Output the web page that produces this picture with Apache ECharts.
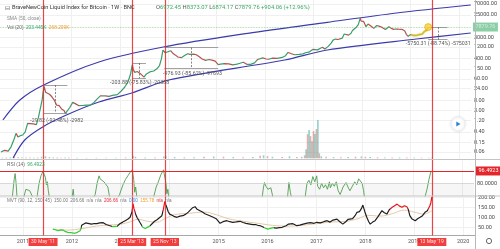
<!DOCTYPE html>
<html><head><meta charset="utf-8">
<script src="https://cdn.jsdelivr.net/npm/echarts@6/dist/echarts.min.js"></script>
<style>html,body{margin:0;padding:0;background:#fff}#c{width:500px;height:249px}</style>
</head><body><div id="c"></div>
<script>
// ---------- DATA ----------
const years = [2011,2012,2013,2014,2015,2016,2017,2018,2019,2020];
const priceTicks = [0.06,0.15,0.4,1.2,3,8,24,60,150,400,1200,3000,25000,70000];
const rsiTicks = [80];
const mvtTicks = [50,100,150,200];
const lastPrice = 7879.76;
const rsiLast = 96.4923;
const redDates = ['2011-05-30','2013-03-25','2013-11-25','2019-05-13'];
const redLabels = ["30 May '11","25 Mar '13","25 Nov '13","13 May '19"];

// weekly-ish closes [decimal year, price]
const price = [
[2010.55,0.06],[2010.62,0.07],[2010.70,0.065],[2010.76,0.10],[2010.82,0.20],[2010.86,0.35],[2010.90,0.25],[2010.95,0.28],
[2011.00,0.30],[2011.05,0.40],[2011.10,0.90],[2011.15,0.88],[2011.22,0.85],[2011.28,0.80],[2011.32,1.5],[2011.36,3.5],
[2011.40,8.5],[2011.42,18],[2011.44,29],[2011.47,17],[2011.50,15],[2011.55,14],[2011.60,11],[2011.65,8],[2011.70,5],
[2011.75,4.8],[2011.80,3.5],[2011.85,3.0],[2011.88,2.3],[2011.92,2.6],[2011.97,4.0],[2012.03,6.5],[2012.10,5.5],
[2012.15,4.8],[2012.25,4.9],[2012.32,5.0],[2012.40,5.1],[2012.47,6.5],[2012.53,8.8],[2012.60,12],[2012.63,10],
[2012.70,12],[2012.78,11.5],[2012.85,12.5],[2012.95,13.5],[2013.02,18],[2013.10,27],[2013.17,45],[2013.22,90],
[2013.26,230],[2013.28,140],[2013.31,110],[2013.36,120],[2013.42,100],[2013.50,70],[2013.55,95],[2013.62,115],
[2013.70,125],[2013.76,150],[2013.82,210],[2013.86,400],[2013.89,900],[2013.91,1050],[2013.94,700],[2013.98,780],
[2014.05,850],[2014.10,650],[2014.15,560],[2014.20,470],[2014.27,440],[2014.33,530],[2014.40,640],[2014.45,600],
[2014.52,620],[2014.58,580],[2014.64,480],[2014.70,390],[2014.77,340],[2014.84,370],[2014.90,350],[2014.97,320],
[2015.03,230],[2015.08,240],[2015.15,250],[2015.25,245],[2015.33,225],[2015.42,240],[2015.48,260],[2015.55,285],
[2015.62,235],[2015.70,235],[2015.78,270],[2015.84,370],[2015.88,330],[2015.95,430],[2016.02,390],[2016.07,380],
[2016.15,420],[2016.25,415],[2016.35,450],[2016.42,530],[2016.47,720],[2016.53,650],[2016.60,580],[2016.70,605],
[2016.78,630],[2016.83,700],[2016.90,740],[2016.98,960],[2017.02,920],[2017.08,920],[2017.13,1050],[2017.18,1180],
[2017.23,1000],[2017.30,1280],[2017.36,1750],[2017.40,2300],[2017.45,2550],[2017.50,2450],[2017.54,2300],[2017.59,2800],
[2017.63,4100],[2017.67,4300],[2017.72,3700],[2017.77,4400],[2017.80,5700],[2017.84,6100],[2017.88,7800],[2017.92,10000],
[2017.96,18500],[2017.98,13800],[2018.03,13500],[2018.08,8200],[2018.12,10500],[2018.18,8800],[2018.24,7000],[2018.30,9200],
[2018.36,8500],[2018.42,7500],[2018.48,6300],[2018.55,8200],[2018.60,7000],[2018.65,6400],[2018.70,6600],[2018.75,6500],
[2018.82,6400],[2018.88,5500],[2018.91,4000],[2018.95,3300],[2019.00,3900],[2019.05,3600],[2019.12,3600],[2019.18,3900],
[2019.24,4100],[2019.28,5200],[2019.33,5800],[2019.362,7879.76]
];
// volume [decimal year, volume (M)]
const volume = [
[2010.58,0.6],[2010.66,0.8],[2010.74,0.9],[2010.82,1.2],[2010.90,1.0],[2010.98,0.8],[2011.06,0.7],[2011.14,0.7],
[2011.22,0.6],[2011.30,0.8],[2011.38,1.5],[2011.46,2.0],[2011.54,1.2],[2011.62,0.9],[2011.70,0.8],[2011.78,0.6],
[2011.86,0.7],[2011.94,0.8],[2012.10,0.5],[2012.30,0.4],[2012.50,0.5],[2012.70,0.6],[2012.90,0.5],[2013.10,0.8],
[2013.25,2.5],[2013.30,1.5],[2013.50,0.8],[2013.70,0.7],[2013.88,1.8],[2013.92,2.2],[2014.10,1.2],[2014.30,1.0],
[2014.50,1.1],[2014.70,1.5],[2014.90,1.8],[2015.10,1.6],[2015.30,1.2],[2015.50,1.0],[2015.70,1.3],[2015.85,2.5],
[2015.92,3.0],[2016.00,2.2],[2016.10,1.5],[2016.30,1.2],[2016.45,2.0],[2016.60,1.2],[2016.70,1.5],[2016.76,3],
[2016.79,9],[2016.82,24],[2016.85,28],[2016.88,22],[2016.91,17],[2016.94,27],[2016.97,24],[2017.00,29],
[2017.03,38],[2017.06,5],[2017.10,2],[2017.20,1.5],[2017.35,1.2],[2017.50,1.0],[2017.65,1.2],[2017.80,1.6],
[2017.92,1.8],[2018.00,1.5],[2018.10,1.2],[2018.25,1.0],[2018.40,0.9],[2018.55,0.8],[2018.70,0.8],[2018.85,0.9],
[2019.00,0.7],[2019.15,0.6],[2019.30,0.6],[2019.36,0.5]
];
// RSI (14) [decimal year, value]
const rsi = [
[2010.55,55],[2010.78,60],[2010.82,85],[2010.84,93],[2010.86,80],[2010.88,60],[2010.95,55],[2011.02,62],[2011.06,72],
[2011.10,73],[2011.14,70],[2011.18,68],[2011.21,60],[2011.26,55],[2011.29,62],[2011.33,80],[2011.37,90],[2011.41,96],
[2011.43,98],[2011.46,88],[2011.48,78],[2011.50,82],[2011.52,70],[2011.55,58],[2012.00,58],[2012.03,72],[2012.05,58],
[2012.40,55],[2012.48,65],[2012.52,80],[2012.56,90],[2012.58,86],[2012.62,88],[2012.66,82],[2012.70,84],[2012.74,75],
[2012.78,60],[2012.90,55],[2012.98,65],[2013.05,78],[2013.10,85],[2013.15,90],[2013.20,95],[2013.24,98],[2013.27,85],
[2013.29,68],[2013.31,75],[2013.34,58],[2013.60,55],[2013.68,62],[2013.73,75],[2013.78,83],[2013.83,92],[2013.88,98],
[2013.91,97],[2013.93,80],[2013.95,66],[2013.97,72],[2013.99,60],[2014.05,55],[2015.90,60],[2015.93,75],[2015.95,81],
[2015.98,76],[2016.02,72],[2016.05,70],[2016.08,74],[2016.12,62],[2016.20,55],[2016.42,60],[2016.45,81],[2016.48,68],
[2016.52,55],[2016.78,60],[2016.82,80],[2016.86,84],[2016.90,78],[2016.94,89],[2016.98,82],[2017.02,90],[2017.04,76],
[2017.08,72],[2017.12,80],[2017.16,74],[2017.20,78],[2017.24,72],[2017.28,82],[2017.30,74],[2017.34,80],[2017.38,76],
[2017.42,82],[2017.46,70],[2017.50,65],[2017.56,75],[2017.62,81],[2017.66,75],[2017.70,70],[2017.74,72],[2017.80,82],
[2017.84,78],[2017.88,86],[2017.92,88],[2017.95,80],[2017.98,70],[2018.00,60],[2018.05,55],[2019.20,55],[2019.24,62],
[2019.28,72],[2019.32,85],[2019.362,96.4923]
];
// MVT main line [decimal year, value]
const mvt = [
[2011.61,43],[2011.66,40],[2011.72,35],[2011.77,39],[2011.82,38],[2011.87,30],[2011.92,27],[2011.98,25],[2012.06,22],
[2012.12,28],[2012.17,35],[2012.20,62],[2012.23,70],[2012.28,74],[2012.33,72],[2012.40,68],[2012.46,71],[2012.51,70],
[2012.57,74],[2012.64,75],[2012.70,66],[2012.78,60],[2012.84,55],[2012.88,50],[2012.93,58],[2012.98,70],[2013.04,78],
[2013.09,85],[2013.14,92],[2013.19,102],[2013.23,130],[2013.25,170],[2013.27,145],[2013.30,120],[2013.33,102],[2013.36,95],
[2013.39,77],[2013.42,65],[2013.45,52],[2013.50,46],[2013.54,43],[2013.59,58],[2013.64,70],[2013.69,82],[2013.74,90],
[2013.79,100],[2013.84,110],[2013.87,140],[2013.90,182],[2013.92,165],[2013.94,152],[2013.97,130],[2014.00,118],[2014.05,112],
[2014.10,105],[2014.15,102],[2014.21,108],[2014.27,110],[2014.33,118],[2014.38,128],[2014.42,135],[2014.47,150],[2014.52,155],
[2014.56,142],[2014.62,135],[2014.67,128],[2014.72,120],[2014.76,118],[2014.82,110],[2014.89,102],[2014.95,95],[2015.03,72],
[2015.09,80],[2015.17,85],[2015.23,80],[2015.29,77],[2015.36,79],[2015.44,82],[2015.50,76],[2015.56,72],[2015.60,70],
[2015.64,68],[2015.70,65],[2015.75,66],[2015.80,62],[2015.85,60],[2015.90,55],[2015.95,48],[2016.01,43],[2016.06,47],
[2016.11,50],[2016.18,48],[2016.24,50],[2016.30,52],[2016.38,60],[2016.43,68],[2016.46,77],[2016.52,70],[2016.60,60],
[2016.66,63],[2016.73,68],[2016.81,73],[2016.88,75],[2016.95,72],[2017.01,77],[2017.08,74],[2017.15,80],[2017.22,85],
[2017.28,78],[2017.34,88],[2017.42,93],[2017.48,80],[2017.54,68],[2017.60,80],[2017.65,92],[2017.69,102],[2017.74,95],
[2017.79,110],[2017.83,127],[2017.88,130],[2017.92,145],[2017.95,163],[2017.99,130],[2018.03,102],[2018.07,80],[2018.10,68],
[2018.15,78],[2018.20,85],[2018.26,105],[2018.30,120],[2018.34,135],[2018.39,125],[2018.44,118],[2018.49,140],[2018.55,152],
[2018.60,160],[2018.65,168],[2018.70,158],[2018.75,152],[2018.80,160],[2018.85,155],[2018.88,140],[2018.91,110],[2018.95,95],
[2018.98,88],[2019.02,85],[2019.07,95],[2019.12,102],[2019.17,110],[2019.22,127],[2019.27,135],[2019.32,160],[2019.34,175],
[2019.362,204]
];
// MVT slow average [decimal year, value]
const mvtAvg = [
[2011.61,42],[2011.9,38],[2012.2,45],[2012.5,58],[2012.8,64],[2013.0,68],[2013.2,80],[2013.35,92],[2013.55,82],[2013.75,78],
[2013.9,95],[2014.1,115],[2014.4,122],[2014.7,128],[2014.95,115],[2015.2,95],[2015.5,82],[2015.8,72],[2016.1,62],[2016.4,58],
[2016.7,62],[2017.0,70],[2017.3,78],[2017.6,82],[2017.85,95],[2018.05,112],[2018.3,108],[2018.55,120],[2018.8,138],
[2019.0,128],[2019.2,118],[2019.362,135]
];
// MVT colour zones [from, to]
const mvtGreen = [[2011.55,2012.19],[2012.83,2012.92],[2013.43,2013.60],[2015.93,2016.14]];
const mvtRed = [[2013.22,2013.29],[2013.86,2013.93],[2018.50,2018.88],[2019.28,2019.40]];
// channel (drawing) [decimal year, price]
const channelUpper = [[2010.59,1.23],[2010.94,8.1],[2011.43,33.5],[2012.57,293],[2013.90,1205],[2015.64,4380],[2017.28,12400],[2018.71,29900],[2020.24,63600]];
const channelLower = [[2010.80,0.034],[2011.04,0.186],[2011.41,0.64],[2011.90,1.97],[2012.57,6.7],[2013.25,15.7],[2014.01,53.7],[2016.40,354],[2017.28,910],[2019.12,2570],[2020.24,4530]];
// price range measurements: [start, end, mid, high, low, text-x, text-price, text]
const ranges = [
 [2011.43,2011.92,2011.67,33.5,2.38,2011.70,1.12,'-29.82 (-92.48%) -2982'],
 [2013.27,2013.54,2013.40,266,64,2013.41,40.4,'-203.88 (-75.83%) -20388'],
 [2013.92,2015.03,2014.48,1140,163,2014.50,94.5,'-976.93 (-85.62%) -97693'],
 [2019.362,2019.76,2019.56,7880,2400,2019.57,1603,'-5750.31 (-88.74%) -575031']
];

// ---------- BUILD ----------
const FONT = 'Roboto, "Liberation Sans", Arial, sans-serif';
const UP = '#3a9d6a', DOWN = '#b5534c';
const toYear = s => { const d = new Date(s + 'T00:00:00Z'); const Y = d.getUTCFullYear();
  const a = Date.UTC(Y,0,1), b = Date.UTC(Y+1,0,1); return Y + (d.getTime() - a) / (b - a); };
const X_MIN = 2010.530, X_MAX = 2020.243;
const L = Math.log10;

const pricePieces = [];
for (let i = 0; i < price.length - 1; i++) {
  pricePieces.push({gte: price[i][0], lt: price[i+1][0], color: price[i+1][1] >= price[i][1] ? UP : DOWN});
}
const mvtPieces = mvtGreen.map(r => ({gte: r[0], lt: r[1], color: '#2fd12f'}))
  .concat(mvtRed.map(r => ({gte: r[0], lt: r[1], color: '#e8141a'})));

function xAx(i, showLabels) {
  return {
    type: 'value', gridIndex: i, min: X_MIN, max: X_MAX,
    axisLine: {show: !!showLabels, onZero: false, lineStyle: {color: '#a8a8a8', width: 1}},
    axisTick: {show: false, customValues: years},
    axisLabel: showLabels ? {show: true, customValues: years, fontSize: 5.5, color: '#555', margin: 3,
      formatter: v => String(Math.round(v))} : {show: false},
    splitLine: {show: i !== 1 && i !== 4, lineStyle: {color: '#f0f0f0', width: 1}}
  };
}

const annLines = [];
const annTexts = [];
ranges.forEach(r => {
  const [a, b, m, hi, lo, tx, tp, txt] = r;
  const solid = {color: '#8a8a8a', width: 0.8, type: 'solid'};
  annLines.push([{coord: [a, L(hi)], lineStyle: solid}, {coord: [b, L(hi)]}]);
  annLines.push([{coord: [a, L(lo)], lineStyle: solid}, {coord: [b, L(lo)]}]);
  annLines.push([{coord: [m, L(hi)], lineStyle: {color: '#666', width: 0.8, type: [2, 1.5]}}, {coord: [m, L(lo)]}]);
  annTexts.push({coord: [tx, L(tp)], label: {formatter: txt}});
});

const option = {
  animation: false,
  textStyle: {fontFamily: FONT},
  grid: [
    {left: 0, top: 0, width: 475, height: 159.5},
    {left: 0, top: 120, width: 475, height: 38.3},
    {left: 0, top: 160, width: 475, height: 36},
    {left: 0, top: 196.5, width: 475, height: 39},
    {left: 0, top: 0, width: 475, height: 235.5}
  ],
  xAxis: [xAx(0), xAx(1), xAx(2), xAx(3, true), xAx(4)],
  yAxis: [
    {type: 'value', gridIndex: 0, position: 'right', min: -1.529, max: 5.008,
     axisLine: {show: false}, axisTick: {show: false, customValues: priceTicks.map(L)},
     axisLabel: {customValues: priceTicks.map(L), fontSize: 5.5, color: '#4a4a4a', margin: 3,
       formatter: v => Math.pow(10, v).toFixed(2)},
     splitLine: {show: true, lineStyle: {color: '#f0f0f0'}}},
    {type: 'value', gridIndex: 1, min: 0, max: 38, show: false},
    {type: 'value', gridIndex: 2, position: 'right', min: 62.97, max: 111.2,
     axisLine: {show: false}, axisTick: {show: false, customValues: rsiTicks},
     axisLabel: {customValues: rsiTicks, fontSize: 5.5, color: '#4a4a4a', margin: 3, formatter: v => v.toFixed(4)},
     splitLine: {show: false}},
    {type: 'value', gridIndex: 3, position: 'right', min: 11, max: 206,
     axisLine: {show: false}, axisTick: {show: false, customValues: mvtTicks},
     axisLabel: {customValues: mvtTicks, fontSize: 5.5, color: '#4a4a4a', margin: 3, formatter: v => v.toFixed(2)},
     splitLine: {show: true, lineStyle: {color: '#f0f0f0'}}},
    {type: 'value', gridIndex: 4, min: 0, max: 1, show: false}
  ],
  visualMap: [
    {type: 'piecewise', show: false, dimension: 0, seriesIndex: 0, pieces: pricePieces, outOfRange: {color: UP}},
    {type: 'piecewise', show: false, dimension: 0, seriesIndex: 8, pieces: mvtPieces, outOfRange: {color: '#1e1e1e'}}
  ],
  series: [
    {type: 'line', xAxisIndex: 0, yAxisIndex: 0, showSymbol: false, z: 3,
     data: price.map(d => [d[0], L(d[1])]), lineStyle: {width: 1.2},
     markLine: {silent: true, symbol: 'none', animation: false, label: {show: false},
       data: annLines.concat([
         {yAxis: L(lastPrice), lineStyle: {color: '#4caf50', type: 'dotted', width: 0.8, opacity: 0.6},
          label: {show: true, position: 'end', formatter: lastPrice.toFixed(2), backgroundColor: '#3fae6a',
            color: '#fff', fontSize: 5.5, padding: [1.5, 2.5], distance: 2}}
       ])},
     markPoint: {silent: true, symbol: 'circle', symbolSize: 1, itemStyle: {color: 'rgba(0,0,0,0)'},
       label: {show: true, position: 'inside', color: '#555', fontSize: 5.3}, data: annTexts}},
    {type: 'line', xAxisIndex: 0, yAxisIndex: 0, showSymbol: false, z: 2,
     data: channelUpper.map(d => [d[0], L(d[1])]), smooth: 0.3,
     lineStyle: {color: '#3b3bab', width: 1.2}},
    {type: 'line', xAxisIndex: 0, yAxisIndex: 0, showSymbol: false, z: 2,
     data: channelLower.map(d => [d[0], L(d[1])]), smooth: 0.3,
     lineStyle: {color: '#3b3bab', width: 1.2}},
    {type: 'line', xAxisIndex: 0, yAxisIndex: 0, showSymbol: false, z: 4,
     data: price.filter(d => d[0] >= 2019.0).map(d => [d[0], L(d[1])]),
     lineStyle: {color: '#f5c838', width: 2.5, opacity: 0.75}},
    {type: 'scatter', xAxisIndex: 0, yAxisIndex: 0, z: 5, symbolSize: 7,
     data: price.slice(-1).map(d => [d[0], L(d[1])]),
     itemStyle: {color: '#f7cf3e', borderColor: '#e6a800', borderWidth: 0.8}},
    {type: 'bar', xAxisIndex: 1, yAxisIndex: 1, barWidth: 1.6, z: 1,
     data: volume.map(d => [d[0], d[1]]),
     itemStyle: {color: p => (p.dataIndex % 2 ? 'rgba(205,110,100,0.55)' : 'rgba(60,170,160,0.55)')}},
    {type: 'line', xAxisIndex: 2, yAxisIndex: 2, showSymbol: false, z: 3,
     data: rsi.map(d => [d[0], d[1]]), lineStyle: {color: '#4d9e4d', width: 0.9},
     markArea: {silent: true, itemStyle: {color: 'rgba(0,0,0,0.035)'}, data: [[{yAxis: 62.97}, {yAxis: 80}]]},
     markLine: {silent: true, symbol: 'none', animation: false,
       data: [
         {yAxis: 80, lineStyle: {color: '#c9c9c9', type: 'solid', width: 0.7}, label: {show: false}},
         {yAxis: rsiLast, lineStyle: {color: '#e3262b', type: 'solid', width: 1.2},
          label: {show: true, position: 'end', formatter: rsiLast.toFixed(4), backgroundColor: '#e3262b',
            color: '#fff', fontSize: 5.5, padding: [1.5, 2.5], distance: 2}}
       ]}},
    {type: 'line', xAxisIndex: 3, yAxisIndex: 3, showSymbol: false, z: 2,
     data: mvtAvg.map(d => [d[0], d[1]]), smooth: 0.4, lineStyle: {color: '#e3c9a4', width: 1}},
    {type: 'line', xAxisIndex: 3, yAxisIndex: 3, showSymbol: false, z: 3,
     data: mvt.map(d => [d[0], d[1]]), lineStyle: {width: 1.2}},
    {type: 'line', xAxisIndex: 4, yAxisIndex: 4, showSymbol: false, z: 6,
     data: [[2015, -1]], lineStyle: {opacity: 0},
     markLine: {silent: true, symbol: 'none', animation: false,
       lineStyle: {color: '#e3262b', width: 1.2, type: 'solid', opacity: 0.85},
       label: {show: true, position: 'start', backgroundColor: '#ee1c1c', color: '#fff', fontSize: 5,
         padding: [1.5, 2.5], distance: 2.5},
       data: redDates.map((d, i) => ({xAxis: toYear(d), label: {formatter: redLabels[i]}}))}}
  ],
  graphic: [
    {type: 'line', shape: {x1: 0, y1: 159.5, x2: 500, y2: 159.5}, style: {stroke: '#c4c4c4', lineWidth: 1}, z: 10},
    {type: 'line', shape: {x1: 0, y1: 196, x2: 500, y2: 196}, style: {stroke: '#c4c4c4', lineWidth: 1}, z: 10},
    {type: 'line', shape: {x1: 475.5, y1: 0, x2: 475.5, y2: 249}, style: {stroke: '#b8b8b8', lineWidth: 1}, z: 10},
    {type: 'text', x: 5, y: 8, z: 20, style: {text: '⊟', fontSize: 6, fill: '#666', verticalAlign: 'middle', fontFamily: 'DejaVu Sans'}},
    {type: 'text', x: 12, y: 8, z: 20, style: {text: 'BraveNewCoin Liquid Index for Bitcoin · 1W · BNC',
      fontSize: 5.6, fill: '#333', verticalAlign: 'middle', fontFamily: FONT}},
    {type: 'text', x: 156, y: 8, z: 20, style: {
      text: '{l|O}{v|6972.45} {l|H}{v|8373.07} {l|L}{v|6874.17} {l|C}{v|7879.76} {v|+904.06 (+12.96%)}',
      verticalAlign: 'middle', fontFamily: FONT, fontSize: 5.8,
      rich: {l: {fill: '#555', fontSize: 5.8, fontFamily: FONT}, v: {fill: '#3aa864', fontSize: 5.8, fontFamily: FONT}}}},
    {type: 'text', x: 7, y: 18.5, z: 20, style: {text: 'SMA (50, close)', fontSize: 4.8, fill: '#8a8a8a', verticalAlign: 'middle', fontFamily: FONT}},
    {type: 'text', x: 7, y: 27.5, z: 20, style: {
      text: '{l|Vol (20)}  {g|203.445K}  {o|268.209K}', verticalAlign: 'middle', fontFamily: FONT, fontSize: 4.8,
      rich: {l: {fill: '#666', fontSize: 4.8}, g: {fill: '#3aa864', fontSize: 4.8}, o: {fill: '#f0a030', fontSize: 4.8}}}},
    {type: 'text', x: 7, y: 164.5, z: 20, style: {
      text: '{l|RSI (14)}  {g|96.4923}', verticalAlign: 'middle', fontFamily: FONT, fontSize: 4.8,
      rich: {l: {fill: '#666', fontSize: 4.8}, g: {fill: '#3aa864', fontSize: 4.8}}}},
    {type: 'text', x: 7, y: 200.5, z: 20, style: {
      text: '{l|MVT (90, 12, 150, 45)}  {l|150.00}  {l|206.66}  {l|n/a}  {l|n/a}  {r|206.66}  {l|n/a}  {b|0.00}  {o|155.78}  {r|n/a}  {l|n/a}',
      verticalAlign: 'middle', fontFamily: FONT, fontSize: 4.6,
      rich: {l: {fill: '#777', fontSize: 4.6}, r: {fill: '#e3262b', fontSize: 4.6}, b: {fill: '#3a8ee6', fontSize: 4.6}, o: {fill: '#f0a030', fontSize: 4.6}}}},
    {type: 'circle', shape: {cx: 458, cy: 124, r: 7}, z: 20,
     style: {fill: '#fff', stroke: '#eceff3', lineWidth: 1, shadowBlur: 3, shadowColor: 'rgba(0,0,0,0.12)'}},
    {type: 'polygon', shape: {points: [[456.3, 121.5], [456.3, 126.5], [460.5, 124]]}, z: 21, style: {fill: '#2f7fd6'}},
    {type: 'circle', shape: {cx: 489, cy: 241, r: 2.6}, z: 20, style: {fill: 'none', stroke: '#666', lineWidth: 1}}
  ]
};
const chart = echarts.init(document.getElementById('c'), null, {renderer: 'canvas'});
chart.setOption(option);
</script>
</body></html>
